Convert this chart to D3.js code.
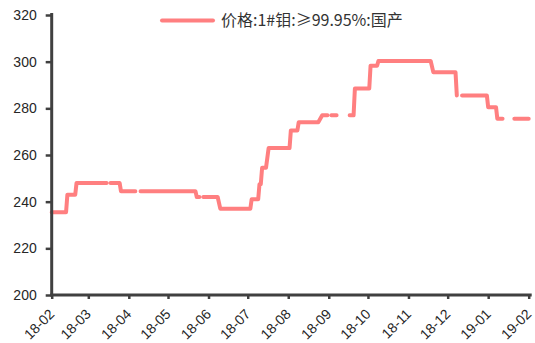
<!DOCTYPE html>
<html>
<head>
<meta charset="utf-8">
<script src="https://cdn.jsdelivr.net/npm/d3@7"></script>
<style>
  html, body { margin: 0; padding: 0; background: #fff; }
  svg { display: block; }
  text { font-family: "Liberation Sans", Arial, "Noto Sans CJK SC", sans-serif; }
</style>
</head>
<body>
<svg id="chart" width="535" height="343"></svg>
<script>
// ---- data ----
const seriesName = "价格:1#钼:≥99.95%:国产";
const dates = [
  "2018-02-01","2018-02-12","2018-02-13","2018-02-19","2018-02-20","2018-03-15", null,
  "2018-03-18","2018-03-25","2018-03-26","2018-04-06", null,
  "2018-04-10","2018-05-22","2018-05-23","2018-05-25", null,
  "2018-05-28","2018-06-08","2018-06-10","2018-07-03","2018-07-04","2018-07-09",
  "2018-07-10","2018-07-11","2018-07-12","2018-07-15","2018-07-17","2018-08-02",
  "2018-08-03","2018-08-08","2018-08-09","2018-08-24","2018-08-27","2018-08-31", null,
  "2018-09-03","2018-09-07", null,
  "2018-09-17","2018-09-20","2018-09-21","2018-10-02","2018-10-03","2018-10-08",
  "2018-10-09","2018-11-18","2018-11-20","2018-12-07","2018-12-08", null,
  "2018-12-12","2018-12-31","2019-01-01","2019-01-07","2019-01-08","2019-01-12", null,
  "2019-01-21","2019-02-01"
];
const prices = [
  235.5,235.5,243,243,248,248, null,
  248,248,244.5,244.5, null,
  244.5,244.5,242,242, null,
  242,242,237,237,241,241,
  247.5,247.5,254.5,254.5,263,263,
  270.5,270.5,274,274,277,277, null,
  277,277, null,
  277,277,288.5,288.5,298.3,298.3,
  300.3,300.3,295.5,295.5,285.5, null,
  285.5,285.5,280.5,280.5,275.5,275.5, null,
  275.5,275.5
];
const yTicks = [200,220,240,260,280,300,320];
const xTickDates = ["2018-02-01","2018-03-01","2018-04-01","2018-05-01","2018-06-01","2018-07-01",
  "2018-08-01","2018-09-01","2018-10-01","2018-11-01","2018-12-01","2019-01-01","2019-02-01"];

// ---- chart ----
(function () {
const parse = d3.timeParse("%Y-%m-%d");
const fmt = d3.timeFormat("%y-%m");
const data = dates.map((d, i) => ({ date: d ? parse(d) : null, v: prices[i] }));

const svg = d3.select("#chart");
const mLeft = 51.7, mRight = 528.7, mTop = 15, mBottom = 295;
const axisColor = "#404040";

const x = d3.scaleTime()
  .domain([parse(xTickDates[0]), parse(xTickDates[xTickDates.length - 1])])
  .range([mLeft, mRight]);
const y = d3.scaleLinear().domain([200, 320]).range([mBottom, mTop]);

const line = d3.line()
  .defined(d => d.v != null && d.date != null)
  .x(d => x(d.date))
  .y(d => y(d.v));

svg.append("path")
  .datum(data)
  .attr("d", line)
  .attr("fill", "none")
  .attr("stroke", "#ff7f80")
  .attr("stroke-width", 4)
  .attr("stroke-linejoin", "round")
  .attr("stroke-linecap", "round");

// y axis
const yAxis = svg.append("g")
  .attr("transform", `translate(${mLeft},0)`)
  .call(d3.axisLeft(y).tickValues(yTicks).tickSize(6).tickPadding(9).tickSizeOuter(0));
yAxis.select(".domain").attr("stroke", axisColor).attr("stroke-width", 3)
  .attr("d", `M0,${mTop - 2}V${mBottom}`);
yAxis.selectAll(".tick line").attr("stroke", axisColor).attr("stroke-width", 2.5);
yAxis.selectAll(".tick text").attr("fill", "#262626").style("font-size", "14px")
  .style("font-family", '"Liberation Sans", Arial, sans-serif');

// x axis
const xAxis = svg.append("g")
  .attr("transform", `translate(0,${mBottom})`)
  .call(d3.axisBottom(x).tickValues(xTickDates.map(parse)).tickFormat(fmt).tickSize(4).tickSizeOuter(0));
xAxis.select(".domain").attr("stroke", axisColor).attr("stroke-width", 3)
  .attr("d", `M${mLeft - 1.5},0H${mRight + 3}`);
xAxis.selectAll(".tick line").attr("stroke", axisColor).attr("stroke-width", 2.5);
xAxis.selectAll(".tick text")
  .attr("fill", "#262626")
  .style("font-size", "14px")
  .style("font-family", '"Liberation Sans", Arial, sans-serif')
  .attr("text-anchor", "end")
  .attr("dy", null)
  .attr("y", null)
  .attr("transform", "translate(3,20) rotate(-45)");

// legend
const lg = svg.append("g");
lg.append("line")
  .attr("x1", 162).attr("x2", 213).attr("y1", 20.5).attr("y2", 20.5)
  .attr("stroke", "#ff7f80").attr("stroke-width", 4).attr("stroke-linecap", "round");
lg.append("text")
  .attr("x", 221).attr("y", 26)
  .attr("fill", "#333")
  .style("font-size", "16px")
  .style("font-family", '"Noto Sans CJK SC", "Liberation Sans", sans-serif')
  .text(seriesName);
})();
</script>
</body>
</html>
